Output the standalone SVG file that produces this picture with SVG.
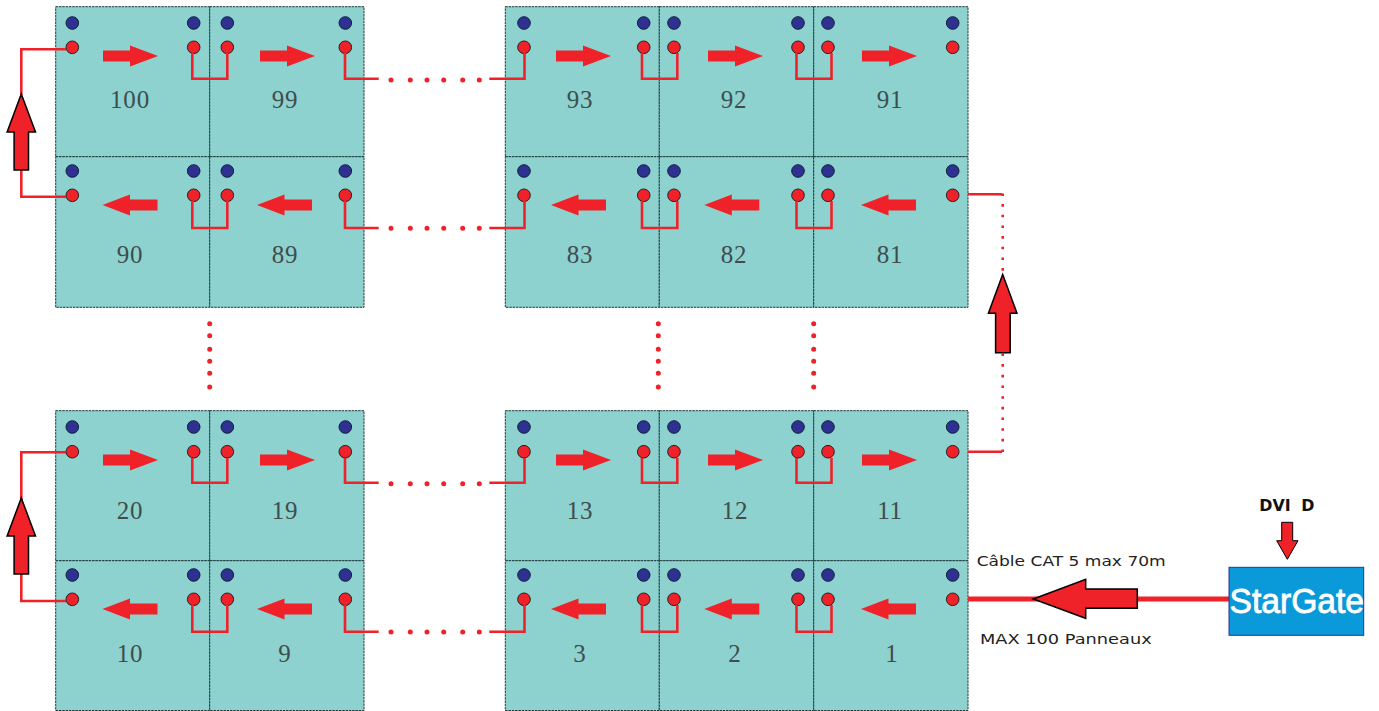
<svg xmlns="http://www.w3.org/2000/svg" width="1379" height="711" viewBox="0 0 1379 711">
<style>
.p{fill:#8dd2cf;stroke:#1c3c3c;stroke-width:1;stroke-dasharray:2.5 .8}
.b{fill:#2e3192;stroke:#123;stroke-width:1}
.r{fill:#ef2129;stroke:#222;stroke-width:1}
.a{fill:#ef2129}
.o{fill:#ef2129;stroke:#000;stroke-width:1.5}
.w{fill:none;stroke:#ef2129;stroke-width:2.6}
.n{font-family:"Liberation Serif",serif;font-size:25px;fill:#3f4d4d;text-anchor:middle;letter-spacing:.8px}
.d{fill:none;stroke:#ef2129;stroke-width:5;stroke-linecap:round}
.s{font-family:"DejaVu Sans",sans-serif;font-size:14.5px;fill:#222}
</style>
<defs>
<polygon id="ar" class="a" points="0,-5.4 27,-5.4 27,-10.5 55,0 27,10.5 27,5.4 0,5.4"/>
<polygon id="al" class="a" points="0,0 27.5,-10.5 27.5,-5.4 55,-5.4 55,5.4 27.5,5.4 27.5,10.5"/>
<polygon id="up" class="o" points="0,0 14.2,38 7.2,38 7.2,76 -7.2,76 -7.2,38 -14.2,38"/>
</defs>

<g id="panel-100"><rect class="p" x="55.7" y="6.7" width="154" height="150"/><circle class="b" cx="72.3" cy="23" r="6.3"/><circle class="b" cx="193.7" cy="23" r="6.3"/><circle class="r" cx="72.3" cy="47.3" r="6.3"/><circle class="r" cx="193.7" cy="47.3" r="6.3"/><use href="#ar" x="103" y="56"/><text class="n" x="130" y="108">100</text></g>
<g id="panel-99"><rect class="p" x="209.7" y="6.7" width="154.3" height="150"/><circle class="b" cx="227.3" cy="23" r="6.3"/><circle class="b" cx="345.3" cy="23" r="6.3"/><circle class="r" cx="227.3" cy="47.3" r="6.3"/><circle class="r" cx="345.3" cy="47.3" r="6.3"/><use href="#ar" x="260" y="56"/><text class="n" x="285" y="108">99</text></g>
<g id="panel-93"><rect class="p" x="505.3" y="6.7" width="154" height="150"/><circle class="b" cx="524" cy="23" r="6.3"/><circle class="b" cx="643.7" cy="23" r="6.3"/><circle class="r" cx="524" cy="47.3" r="6.3"/><circle class="r" cx="643.7" cy="47.3" r="6.3"/><use href="#ar" x="556" y="56"/><text class="n" x="580" y="108">93</text></g>
<g id="panel-92"><rect class="p" x="659.3" y="6.7" width="154.4" height="150"/><circle class="b" cx="674" cy="23" r="6.3"/><circle class="b" cx="798" cy="23" r="6.3"/><circle class="r" cx="674" cy="47.3" r="6.3"/><circle class="r" cx="798" cy="47.3" r="6.3"/><use href="#ar" x="708" y="56"/><text class="n" x="734" y="108">92</text></g>
<g id="panel-91"><rect class="p" x="813.7" y="6.7" width="154.3" height="150"/><circle class="b" cx="828" cy="23" r="6.3"/><circle class="b" cx="952.7" cy="23" r="6.3"/><circle class="r" cx="828" cy="47.3" r="6.3"/><circle class="r" cx="952.7" cy="47.3" r="6.3"/><use href="#ar" x="862" y="56"/><text class="n" x="890" y="108">91</text></g>

<g id="panel-90"><rect class="p" x="55.7" y="156.7" width="154" height="150.6"/><circle class="b" cx="72.3" cy="171" r="6.3"/><circle class="b" cx="193.7" cy="171" r="6.3"/><circle class="r" cx="72.3" cy="195.3" r="6.3"/><circle class="r" cx="193.7" cy="195.3" r="6.3"/><use href="#al" x="102.5" y="205"/><text class="n" x="130" y="262.7">90</text></g>
<g id="panel-89"><rect class="p" x="209.7" y="156.7" width="154.3" height="150.6"/><circle class="b" cx="227.3" cy="171" r="6.3"/><circle class="b" cx="345.3" cy="171" r="6.3"/><circle class="r" cx="227.3" cy="195.3" r="6.3"/><circle class="r" cx="345.3" cy="195.3" r="6.3"/><use href="#al" x="257" y="205"/><text class="n" x="285" y="262.7">89</text></g>
<g id="panel-83"><rect class="p" x="505.3" y="156.7" width="154" height="150.6"/><circle class="b" cx="524" cy="171" r="6.3"/><circle class="b" cx="643.7" cy="171" r="6.3"/><circle class="r" cx="524" cy="195.3" r="6.3"/><circle class="r" cx="643.7" cy="195.3" r="6.3"/><use href="#al" x="551" y="205"/><text class="n" x="580" y="262.7">83</text></g>
<g id="panel-82"><rect class="p" x="659.3" y="156.7" width="154.4" height="150.6"/><circle class="b" cx="674" cy="171" r="6.3"/><circle class="b" cx="798" cy="171" r="6.3"/><circle class="r" cx="674" cy="195.3" r="6.3"/><circle class="r" cx="798" cy="195.3" r="6.3"/><use href="#al" x="704.3" y="205"/><text class="n" x="734" y="262.7">82</text></g>
<g id="panel-81"><rect class="p" x="813.7" y="156.7" width="154.3" height="150.6"/><circle class="b" cx="828" cy="171" r="6.3"/><circle class="b" cx="952.7" cy="171" r="6.3"/><circle class="r" cx="828" cy="195.3" r="6.3"/><circle class="r" cx="952.7" cy="195.3" r="6.3"/><use href="#al" x="861" y="205"/><text class="n" x="890" y="262.7">81</text></g>

<g id="panel-20"><rect class="p" x="55.7" y="410.7" width="154" height="150"/><circle class="b" cx="72.3" cy="427" r="6.3"/><circle class="b" cx="193.7" cy="427" r="6.3"/><circle class="r" cx="72.3" cy="451.7" r="6.3"/><circle class="r" cx="193.7" cy="451.7" r="6.3"/><use href="#ar" x="103" y="460"/><text class="n" x="130" y="519.3">20</text></g>
<g id="panel-19"><rect class="p" x="209.7" y="410.7" width="154.3" height="150"/><circle class="b" cx="227.3" cy="427" r="6.3"/><circle class="b" cx="345.3" cy="427" r="6.3"/><circle class="r" cx="227.3" cy="451.7" r="6.3"/><circle class="r" cx="345.3" cy="451.7" r="6.3"/><use href="#ar" x="260" y="460"/><text class="n" x="285" y="519.3">19</text></g>
<g id="panel-13"><rect class="p" x="505.3" y="410.7" width="154" height="150"/><circle class="b" cx="524" cy="427" r="6.3"/><circle class="b" cx="643.7" cy="427" r="6.3"/><circle class="r" cx="524" cy="451.7" r="6.3"/><circle class="r" cx="643.7" cy="451.7" r="6.3"/><use href="#ar" x="556" y="460"/><text class="n" x="580" y="519.3">13</text></g>
<g id="panel-12"><rect class="p" x="659.3" y="410.7" width="154.4" height="150"/><circle class="b" cx="674" cy="427" r="6.3"/><circle class="b" cx="798" cy="427" r="6.3"/><circle class="r" cx="674" cy="451.7" r="6.3"/><circle class="r" cx="798" cy="451.7" r="6.3"/><use href="#ar" x="708" y="460"/><text class="n" x="735" y="519.3">12</text></g>
<g id="panel-11"><rect class="p" x="813.7" y="410.7" width="154.3" height="150"/><circle class="b" cx="828" cy="427" r="6.3"/><circle class="b" cx="952.7" cy="427" r="6.3"/><circle class="r" cx="828" cy="451.7" r="6.3"/><circle class="r" cx="952.7" cy="451.7" r="6.3"/><use href="#ar" x="862" y="460"/><text class="n" x="890" y="519.3">11</text></g>

<g id="panel-10"><rect class="p" x="55.7" y="560.7" width="154" height="149.8"/><circle class="b" cx="72.3" cy="575" r="6.3"/><circle class="b" cx="193.7" cy="575" r="6.3"/><circle class="r" cx="72.3" cy="599.3" r="6.3"/><circle class="r" cx="193.7" cy="599.3" r="6.3"/><use href="#al" x="102.5" y="609"/><text class="n" x="130" y="661.7">10</text></g>
<g id="panel-9"><rect class="p" x="209.7" y="560.7" width="154.3" height="149.8"/><circle class="b" cx="227.3" cy="575" r="6.3"/><circle class="b" cx="345.3" cy="575" r="6.3"/><circle class="r" cx="227.3" cy="599.3" r="6.3"/><circle class="r" cx="345.3" cy="599.3" r="6.3"/><use href="#al" x="257" y="609"/><text class="n" x="285" y="661.7">9</text></g>
<g id="panel-3"><rect class="p" x="505.3" y="560.7" width="154" height="149.8"/><circle class="b" cx="524" cy="575" r="6.3"/><circle class="b" cx="643.7" cy="575" r="6.3"/><circle class="r" cx="524" cy="599.3" r="6.3"/><circle class="r" cx="643.7" cy="599.3" r="6.3"/><use href="#al" x="551" y="609"/><text class="n" x="580" y="661.7">3</text></g>
<g id="panel-2"><rect class="p" x="659.3" y="560.7" width="154.4" height="149.8"/><circle class="b" cx="674" cy="575" r="6.3"/><circle class="b" cx="798" cy="575" r="6.3"/><circle class="r" cx="674" cy="599.3" r="6.3"/><circle class="r" cx="798" cy="599.3" r="6.3"/><use href="#al" x="704.3" y="609"/><text class="n" x="735" y="661.7">2</text></g>
<g id="panel-1"><rect class="p" x="813.7" y="560.7" width="154.3" height="149.8"/><circle class="b" cx="828" cy="575" r="6.3"/><circle class="b" cx="952.7" cy="575" r="6.3"/><circle class="r" cx="828" cy="599.3" r="6.3"/><circle class="r" cx="952.7" cy="599.3" r="6.3"/><use href="#al" x="861" y="609"/><text class="n" x="892" y="661.7">1</text></g>

<g id="connectors">
<path class="w" d="M192.3 53V78.8H227.3V53M345 53V78.8H378.7M489.3 78.8H524.5V53M642 53V78.8H677.3V53M796.5 53V78.8H831.5V53"/>
<path class="w" d="M192.3 201V228H227.3V201M345 201V228H378.7M489.3 228H524.5V201M642 201V228H677.3V201M796.5 201V228H831.5V201"/>
<path class="w" d="M192.3 458V482.7H227.3V458M345 458V482.7H378.7M489.3 482.7H524.5V458M642 458V482.7H677.3V458M796.5 458V482.7H831.5V458"/>
<path class="w" d="M192.3 605V631.7H227.3V605M345 605V631.7H378.7M489.3 631.7H524.5V605M642 605V631.7H677.3V605M796.5 605V631.7H831.5V605"/>
<path class="w" d="M66 49.3H21.3V95M21.3 170V196.7H66"/>
<path class="w" d="M66 452.3H21.3V500M21.3 574V601H66"/>
<path class="d" d="M391 80h0M410.3 80h0M427 80h0M443.7 80h0M462.7 80h0M479.3 80h0M391 228.3h0M410.3 228.3h0M427 228.3h0M443.7 228.3h0M462.7 228.3h0M479.3 228.3h0M391 483.7h0M410.3 483.7h0M427 483.7h0M443.7 483.7h0M462.7 483.7h0M479.3 483.7h0M391 632h0M410.3 632h0M427 632h0M443.7 632h0M462.7 632h0M479.3 632h0"/>
<path class="d" d="M209.7 323.7h0M209.7 335.7h0M209.7 349.3h0M209.7 361.3h0M209.7 373.3h0M209.7 387h0M658.3 323.7h0M658.3 335.7h0M658.3 349.3h0M658.3 361.3h0M658.3 373.3h0M658.3 387h0M813.7 323.7h0M813.7 335.7h0M813.7 349.3h0M813.7 361.3h0M813.7 373.3h0M813.7 387h0"/>
<path class="w" d="M968 194.3H1002M968 451.7H1002"/>
<path fill="none" stroke="#ef2129" stroke-width="2.6" stroke-dasharray="2.6 8.07" d="M1002.7 193.4V452"/>
<use href="#up" x="21.3" y="94"/>
<use href="#up" x="21.3" y="498"/>
<polygon class="o" points="1002.7,274.5 1017,313.3 1010.2,313.3 1010.2,352.7 995.6,352.7 995.6,313.3 988.4,313.3"/>
<path fill="none" stroke="#ef2129" stroke-width="5" d="M968 599H1229"/>
<polygon class="o" points="1033.3,599 1085.7,579.3 1085.7,589 1137.3,589 1137.3,608.3 1085.7,608.3 1085.7,618.3"/>
<polygon class="o" style="stroke-width:1" points="1281.7,522.3 1292.7,522.3 1292.7,540.7 1298,540.7 1287.3,559.3 1276.7,540.7 1281.7,540.7"/>
</g>

<g id="stargate"><rect x="1229" y="567.3" width="134.7" height="68" fill="#0a9ad9" stroke="#2e3192" stroke-width="1"/><text x="1229.5" y="613.3" font-family="Liberation Sans, sans-serif" font-size="35" fill="#fff" stroke="#fff" stroke-width=".8" textLength="134.5" lengthAdjust="spacingAndGlyphs">StarGate</text></g>
<g id="labels">
<text class="s" x="976.7" y="566" textLength="189" lengthAdjust="spacingAndGlyphs">Câble CAT 5 max 70m</text>
<text class="s" x="980" y="644" textLength="171.7" lengthAdjust="spacingAndGlyphs">MAX 100 Panneaux</text>
<text x="1259.3" y="510.7" font-family="DejaVu Sans, sans-serif" font-weight="bold" font-size="16" word-spacing="5" fill="#111" textLength="55" lengthAdjust="spacingAndGlyphs">DVI D</text>
</g>
</svg>
